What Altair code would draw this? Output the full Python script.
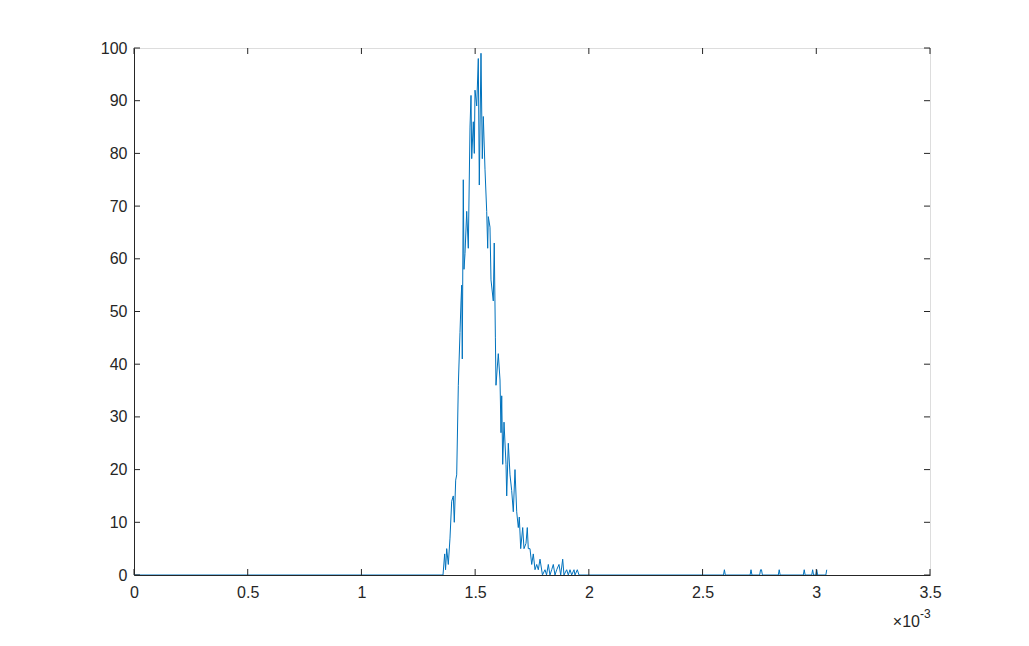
import altair as alt
import pandas as pd

# x in units of 1e-3, y = counts
x_vals = [
    0.0, 1.3587, 1.3660, 1.3700, 1.3749, 1.3820, 1.3894, 1.3969, 1.4040, 1.4083,
    1.4145, 1.4189, 1.4260, 1.4334, 1.4380, 1.4409, 1.4435, 1.4479, 1.4510, 1.4554,
    1.4629, 1.4699, 1.4774, 1.4818, 1.4849, 1.4919, 1.4963, 1.4994, 1.5069, 1.5139,
    1.5183, 1.5257, 1.5315, 1.5359, 1.5433, 1.5508, 1.5552, 1.5579, 1.5653, 1.5697,
    1.5798, 1.5840, 1.5890, 1.5917, 1.6018, 1.6093, 1.6137, 1.6168, 1.6212, 1.6269,
    1.6357, 1.6388, 1.6458, 1.6533, 1.6607, 1.6678, 1.6752, 1.6827, 1.6898, 1.6942,
    1.7003, 1.7091, 1.7148, 1.7236, 1.7293, 1.7337, 1.7412, 1.7487, 1.7557, 1.7632,
    1.7707, 1.7777, 1.7852, 1.7960, 1.8072, 1.8140, 1.8217, 1.8290, 1.8366, 1.8437,
    1.8511, 1.8586, 1.8687, 1.8762, 1.8850, 1.8907, 1.9025, 1.9096, 1.9171, 1.9245,
    1.9347, 1.9391, 1.9492, 1.9567,
    2.5920, 2.5960, 2.6000,
    2.7090, 2.7130, 2.7170,
    2.7510, 2.7550, 2.7590, 2.7630,
    2.8330, 2.8370, 2.8410,
    2.9430, 2.9470, 2.9510,
    2.9800, 2.9840, 2.9880,
    2.9980, 3.0020, 3.0060,
    3.0420, 3.0460,
]
y_vals = [
    0, 0, 4, 1, 5, 2, 7, 14, 15, 10,
    18, 19, 36, 46, 52, 55, 41, 75, 58, 61,
    69, 62, 85, 91, 79, 86, 80, 92, 89, 98,
    74, 99, 79, 87, 77, 69, 62, 68, 66, 56,
    52, 63, 45, 36, 42, 37, 27, 34, 21, 29,
    21, 15, 25, 19, 16, 12, 20, 12, 9, 11,
    5, 9, 5, 6, 9, 5, 5, 2, 4, 1,
    2, 1, 3, 0, 1, 0, 2, 0, 1, 2,
    0, 1, 2, 0, 3, 0, 1, 0, 1, 0,
    1, 0, 1, 0,
    0, 1, 0,
    0, 1, 0,
    0, 1, 1, 0,
    0, 1, 0,
    0, 1, 0,
    0, 1, 0,
    0, 1, 0,
    0, 1,
]

x_ticks = [0, 0.5, 1, 1.5, 2, 2.5, 3, 3.5]
y_ticks = [0, 10, 20, 30, 40, 50, 60, 70, 80, 90, 100]

df = pd.DataFrame({"x": x_vals, "y": y_vals})
dfx = pd.DataFrame({"t": x_ticks})
dfy = pd.DataFrame({"t": y_ticks})

W, H = 796, 527
AX = "#262626"
FONT = "Liberation Sans"

xscale = alt.Scale(domain=[0, 3.5], nice=False, zero=False)
yscale = alt.Scale(domain=[0, 100], nice=False)

line = alt.Chart(df).mark_line(color="#0072BD", strokeWidth=1, clip=True).encode(
    x=alt.X("x:Q", scale=xscale, title=None,
            axis=alt.Axis(values=x_ticks, format="~g", ticks=False, labelPadding=9,
                          labelFontSize=16, labelFont=FONT, labelColor=AX,
                          domainColor=AX, grid=False, labelFlush=False)),
    y=alt.Y("y:Q", scale=yscale, title=None,
            axis=alt.Axis(values=y_ticks, ticks=False, labelPadding=7,
                          labelFontSize=16, labelFont=FONT, labelColor=AX,
                          domainColor=AX, grid=False, labelFlush=False)),
)

tb = alt.Chart(dfx).mark_rule(color=AX, strokeWidth=1).encode(
    x=alt.X("t:Q", scale=xscale), y=alt.value(H), y2=alt.value(H - 6))
tt = alt.Chart(dfx).mark_rule(color=AX, strokeWidth=1).encode(
    x=alt.X("t:Q", scale=xscale), y=alt.value(0), y2=alt.value(6))
tl = alt.Chart(dfy).mark_rule(color=AX, strokeWidth=1).encode(
    y=alt.Y("t:Q", scale=yscale), x=alt.value(0), x2=alt.value(6))
tr = alt.Chart(dfy).mark_rule(color=AX, strokeWidth=1).encode(
    y=alt.Y("t:Q", scale=yscale), x=alt.value(W), x2=alt.value(W - 6))

mult = alt.Chart(pd.DataFrame({"t": ["×10"]})).mark_text(
    align="right", baseline="middle", fontSize=16, font=FONT, color=AX
).encode(text="t:N", x=alt.value(786), y=alt.value(574))
expo = alt.Chart(pd.DataFrame({"t": ["-3"]})).mark_text(
    align="left", baseline="middle", fontSize=12, font=FONT, color=AX
).encode(text="t:N", x=alt.value(786), y=alt.value(566))

chart = alt.layer(line, tb, tt, tl, tr, mult, expo).properties(
    width=W, height=H,
    autosize=alt.AutoSizeParams(type="none"),
    padding={"left": 126, "top": 40, "right": 75, "bottom": 55},
).configure_view(stroke=AX, strokeWidth=1).configure(background="white")

chart.save("out.html", embed_options={"renderer": "svg", "actions": False})
